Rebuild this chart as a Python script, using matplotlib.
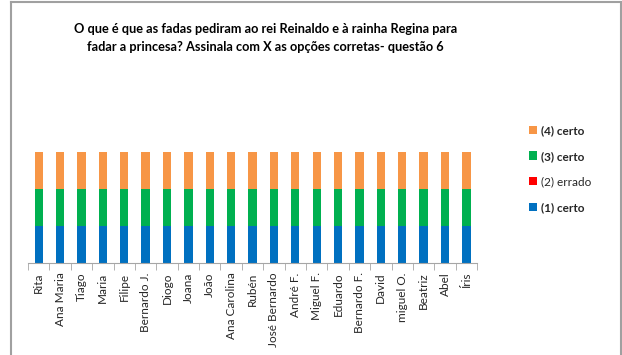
import numpy as np
import matplotlib.pyplot as plt
from matplotlib.lines import Line2D

plt.rcParams['font.family'] = ['Lato', 'DejaVu Sans']

alunos = ["Rita", "Ana Maria", "Tiago", "Maria", "Filipe", "Bernardo J.", "Diogo",
          "Joana", "João", "Ana Carolina", "Rubén", "José Bernardo", "André F.",
          "Miguel F.", "Eduardo", "Bernardo F.", "David", "miguel O.", "Beatriz",
          "Abel", "Íris"]

# respostas por opção (1 = assinalada)
op1_certo = [1, 1, 1, 1, 1, 1, 1, 1, 1, 1, 1, 1, 1, 1, 1, 1, 1, 1, 1, 1, 1]
op2_errado = [0, 0, 0, 0, 0, 0, 0, 0, 0, 0, 0, 0, 0, 0, 0, 0, 0, 0, 0, 0, 0]
op3_certo = [1, 1, 1, 1, 1, 1, 1, 1, 1, 1, 1, 1, 1, 1, 1, 1, 1, 1, 1, 1, 1]
op4_certo = [1, 1, 1, 1, 1, 1, 1, 1, 1, 1, 1, 1, 1, 1, 1, 1, 1, 1, 1, 1, 1]

series = [("(1) certo", op1_certo, "#0070C0"),
          ("(2) errado", op2_errado, "#FF0000"),
          ("(3) certo", op3_certo, "#00B050"),
          ("(4) certo", op4_certo, "#F79646")]

fig = plt.figure(figsize=(6.22, 3.55), dpi=100)
ax = fig.add_axes([0.045, 0.26, 0.722, 0.3625])

x = np.arange(len(alunos))
base = np.zeros(len(alunos))
handles = []
for nome, vals, cor in series:
    b = ax.bar(x, vals, width=0.39, bottom=base, color=cor, label=nome)
    handles.append(b)
    base += np.array(vals)

ax.set_xlim(-0.5, len(alunos) - 0.5)
ax.set_ylim(0, 3.5)
ax.set_yticks([])
for s in ["top", "right", "left"]:
    ax.spines[s].set_visible(False)
ax.spines["bottom"].set_color("#A6A6A6")

ax.set_xticks(x)
ax.set_xticklabels(alunos, rotation=90, fontsize=8.5, color="#262626")
ax.tick_params(axis="x", which="major", length=0, pad=7)
ax.set_xticks(np.arange(len(alunos) + 1) - 0.5, minor=True)
ax.tick_params(axis="x", which="minor", length=5, color="#A6A6A6")

leg = fig.legend(handles[::-1], [s[0] for s in series][::-1], loc="upper left",
                 bbox_to_anchor=(0.833, 0.678), frameon=False, fontsize=8.5,
                 handlelength=0.7, handleheight=0.7, handletextpad=0.3,
                 labelspacing=1.25)
for t in leg.get_texts():
    if "certo" in t.get_text():
        t.set_fontweight("bold")
    t.set_color("#262626")

fig.text(0.427, 0.935, "O que é que as fadas pediram ao rei Reinaldo e à rainha Regina para\n"
         "fadar a princesa? Assinala com X as opções corretas- questão 6",
         ha="center", va="top", fontsize=9.2, fontweight="bold", linespacing=1.55)

# moldura do gráfico
cinza = "#A0A0A0"
fig.add_artist(Line2D([0.017, 0.017], [0, 0.994], color=cinza, lw=1.5))
fig.add_artist(Line2D([0.017, 0.998], [0.994, 0.994], color=cinza, lw=1.5))
fig.add_artist(Line2D([0.998, 0.998], [0, 0.994], color=cinza, lw=1.5))

fig.savefig("out.png", dpi=100)
